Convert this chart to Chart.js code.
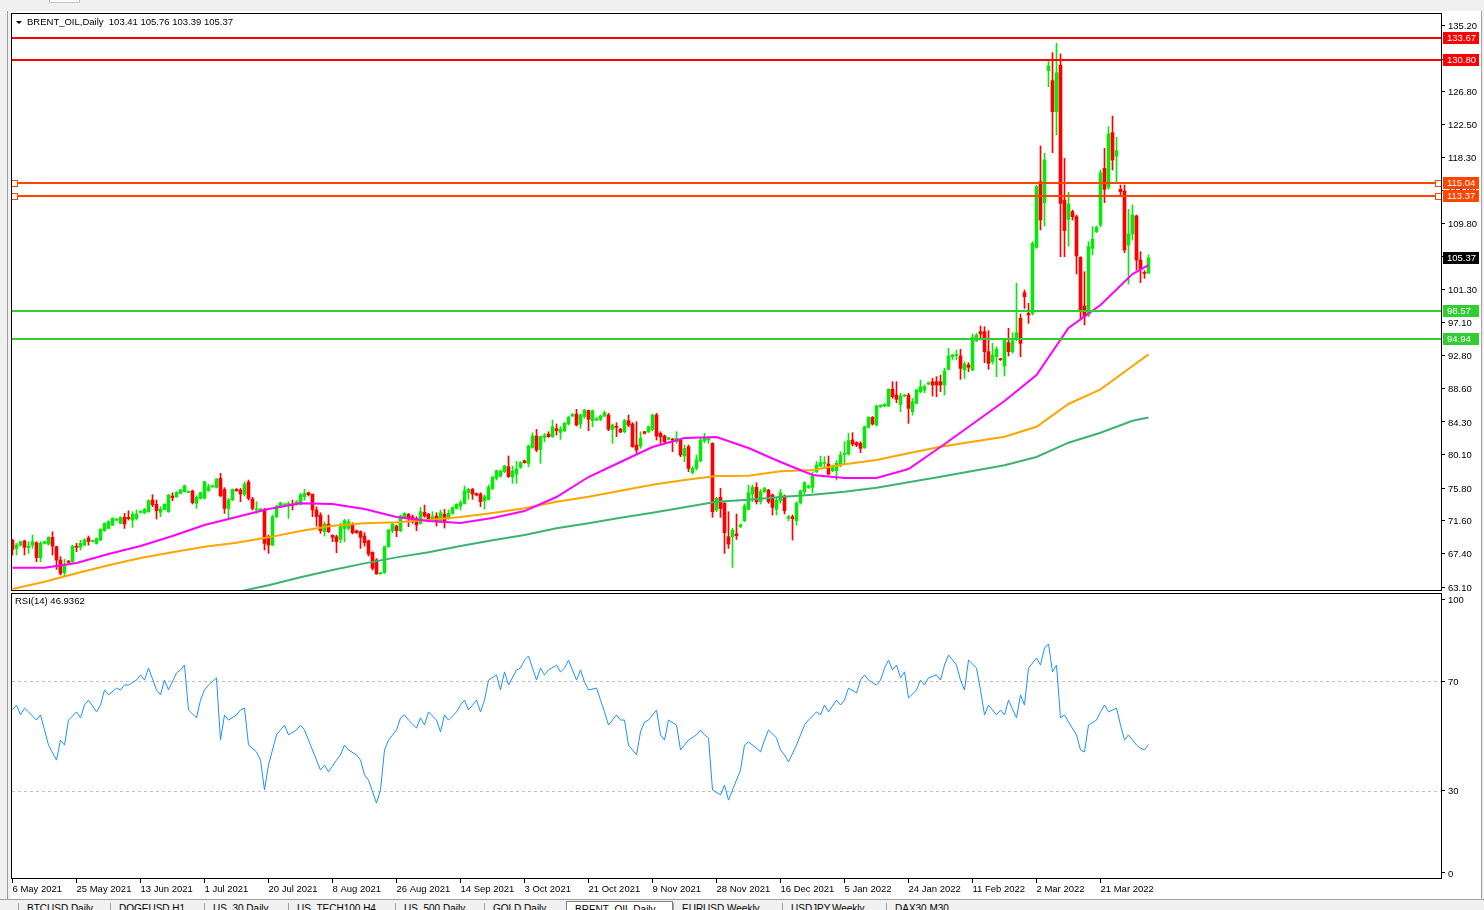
<!DOCTYPE html>
<html>
<head>
<meta charset="utf-8">
<script src="https://cdn.jsdelivr.net/npm/chart.js@4.4.0/dist/chart.umd.min.js"></script>
<style>
  html, body { margin: 0; padding: 0; background: #f0f0f0; }
  #wrap { position: relative; width: 1484px; height: 910px; overflow: hidden; font-family: "Liberation Sans", Arial, sans-serif; }
  #win { position: absolute; left: 11px; top: 11px; width: 1470px; height: 888px; background: #fff; }
  #leftLine { position: absolute; left: 7px; top: 11px; width: 1px; height: 888px; background: #a0a0a0; }
  #rightLine { position: absolute; left: 1481px; top: 11px; width: 1px; height: 888px; background: #a0a0a0; }
  canvas { position: absolute; left: 0; }
  #cMain { top: 0; }
  #cRsi { top: 592px; }
  #tabs { position: absolute; left: 0; top: 899px; width: 1484px; height: 11px; background: #f0f0f0; border-top: 1px solid #a0a0a0; overflow: hidden; font-size: 10px; }
  .tab { position: absolute; top: 3px; height: 20px; border-left: 1px solid #a0a0a0; padding-left: 8px; color: #000; white-space: nowrap; line-height: 12px; }
  .tab.on { background: #fff; border: 1px solid #808080; top: 1px; padding-top: 2px; }
  #tools { position: absolute; left: 0; top: 0; width: 1484px; height: 10px; overflow: hidden; font-size: 10px; }
  .tb { position: absolute; top: -9px; color: #000; }
</style>
</head>
<body>
<div id="wrap">
  <div id="tools">
    <span class="tb" style="left:2px">1</span>
    <span class="tb" style="left:22px">H1</span>
    <span class="tb" style="left:49px;background:#fafafa;padding:0 8px;border:1px solid #c8c8c8;top:-10px">D1</span>
    <span class="tb" style="left:80px">W1</span>
    <span class="tb" style="left:105px">MN</span>
  </div>
  <div id="leftLine"></div>
  <div id="win"></div>
  <div id="rightLine"></div>
  <canvas id="cMain" width="1484" height="592"></canvas>
  <canvas id="cRsi" width="1484" height="305"></canvas>
  <div id="tabs"></div>
</div>
<script>
// BRENT_OIL daily, one bar per index starting 6 May 2021
const openP = [
  69.13, 68.06, 68.49, 69.01, 68.19, 68.49, 68.79, 66.86, 68.71, 68.62,
  69.48, 68.28, 66.56, 64.94, 66.44, 66.35, 68.36, 68.19, 68.49, 69.39,
  68.96, 68.71, 69.13, 70.33, 70.63, 71.06, 71.70, 71.27, 72.05, 72.05,
  71.70, 71.92, 72.69, 72.64, 72.77, 74.27, 73.72, 72.69, 73.07, 72.77,
  74.78, 74.70, 75.13, 75.34, 75.26, 75.43, 73.84, 74.49, 74.49, 75.47,
  75.98, 75.90, 77.06, 75.64, 73.20, 74.27, 75.64, 75.56, 75.00, 76.58,
  74.40, 72.99, 73.00, 72.99, 69.56, 68.49, 72.13, 73.42, 73.63, 73.63,
  73.76, 73.76, 73.76, 74.70, 75.22, 75.04, 72.99, 72.35, 70.21, 71.19,
  69.74, 69.56, 69.22, 70.63, 70.63, 71.19, 70.33, 70.21, 69.65, 69.05,
  67.55, 66.57, 64.80, 64.94, 68.28, 70.33, 70.93, 70.33, 72.05, 72.43,
  72.13, 71.92, 71.28, 72.69, 72.47, 71.79, 72.22, 71.49, 72.47, 71.92,
  72.56, 73.20, 73.50, 73.84, 75.22, 75.64, 75.09, 75.04, 74.19, 74.36,
  75.77, 77.10, 77.36, 77.91, 78.56, 77.27, 77.61, 78.47, 79.33, 78.98,
  81.04, 82.50, 80.78, 82.32, 82.75, 82.41, 83.44, 82.97, 83.18, 84.04,
  85.06, 85.32, 84.04, 84.98, 85.75, 84.47, 84.55, 84.64, 85.06, 85.19,
  83.35, 83.69, 83.39, 83.05, 84.47, 84.04, 81.34, 81.21, 83.05, 83.05,
  83.35, 85.19, 82.84, 82.50, 82.07, 82.07, 81.77, 81.98, 79.93, 81.13,
  77.79, 78.34, 79.33, 81.90, 81.98, 81.55, 72.99, 74.62, 73.85, 69.56,
  69.56, 69.91, 70.85, 71.62, 73.07, 75.04, 75.90, 74.06, 75.34, 75.56,
  74.92, 73.07, 74.19, 74.79, 71.92, 72.13, 71.62, 73.93, 75.34, 75.90,
  75.90, 77.91, 78.64, 78.98, 78.90, 78.04, 78.04, 78.77, 80.14, 80.18,
  81.98, 81.64, 81.55, 80.99, 83.61, 84.89, 83.91, 86.26, 86.35, 86.35,
  88.49, 87.76, 86.56, 87.63, 87.76, 85.62, 86.69, 88.19, 88.40, 89.17,
  89.47, 89.47, 89.47, 89.05, 91.06, 92.69, 92.86, 92.77, 90.97, 91.62,
  90.97, 94.74, 95.90, 95.90, 93.33, 92.04, 92.69, 92.39, 91.49, 94.48,
  93.33, 94.91, 97.61, 100.91, 98.25, 98.25, 106.73, 115.17, 112.47, 129.43,
  128.14, 124.16, 130.15, 112.81, 110.33, 111.31, 110.67, 105.45, 99.20, 98.04,
  106.60, 108.74, 109.60, 116.88, 114.44, 121.46, 118.46, 114.18, 113.97, 107.03,
  108.44, 110.76, 105.10, 103.48, 103.41
];
const highP = [
  69.22, 68.71, 69.01, 69.13, 68.92, 69.78, 68.92, 68.92, 69.01, 69.56,
  70.20, 68.36, 67.00, 66.65, 66.50, 68.45, 68.71, 69.13, 69.30, 69.65,
  69.10, 69.40, 70.60, 71.35, 71.60, 72.00, 71.90, 72.13, 72.56, 72.90,
  72.77, 72.99, 72.90, 73.20, 74.30, 74.96, 74.27, 73.42, 73.80, 75.00,
  75.21, 75.35, 75.65, 76.20, 75.45, 75.56, 74.83, 75.30, 76.70, 76.30,
  76.20, 77.05, 77.70, 75.86, 74.49, 75.70, 75.75, 75.77, 76.63, 76.84,
  74.61, 74.06, 73.20, 73.20, 69.78, 72.35, 73.60, 74.00, 73.85, 74.06,
  74.27, 74.20, 75.13, 75.64, 75.30, 75.04, 73.42, 72.65, 71.49, 72.35,
  69.82, 69.78, 71.28, 71.79, 71.79, 71.36, 70.42, 70.33, 70.08, 69.13,
  67.64, 66.74, 65.00, 68.36, 70.50, 71.36, 71.06, 72.35, 72.65, 72.56,
  72.35, 72.13, 73.33, 73.63, 72.56, 72.77, 72.65, 72.99, 73.07, 72.99,
  73.40, 73.80, 74.19, 76.07, 75.77, 75.77, 75.20, 75.22, 74.92, 76.20,
  77.30, 78.13, 78.10, 78.75, 79.93, 78.64, 79.24, 79.20, 79.40, 81.34,
  82.92, 83.35, 82.50, 82.84, 83.05, 84.55, 84.04, 83.69, 84.25, 85.06,
  85.40, 85.92, 85.32, 85.92, 85.84, 85.84, 84.89, 85.19, 85.71, 85.41,
  84.04, 84.21, 83.48, 84.64, 85.19, 84.21, 84.34, 83.05, 83.10, 83.78,
  85.32, 85.41, 83.05, 82.62, 82.35, 82.20, 83.05, 82.07, 81.34, 81.34,
  78.56, 80.05, 82.20, 82.84, 82.32, 81.64, 74.62, 75.77, 74.06, 72.77,
  70.63, 72.48, 71.19, 73.76, 76.20, 76.20, 76.50, 75.64, 75.90, 75.64,
  75.04, 74.49, 75.64, 74.92, 72.30, 72.35, 74.06, 75.56, 76.63, 76.20,
  77.91, 79.20, 79.93, 79.84, 79.93, 78.77, 79.33, 80.48, 81.77, 82.84,
  82.92, 81.77, 81.77, 83.78, 85.00, 85.00, 86.48, 86.52, 86.65, 88.58,
  89.47, 89.47, 87.98, 87.85, 87.98, 87.33, 88.50, 89.69, 89.05, 89.45,
  89.90, 90.12, 90.33, 91.19, 93.76, 92.99, 93.54, 93.63, 92.04, 91.92,
  95.60, 95.68, 96.62, 96.54, 96.03, 94.40, 93.97, 92.50, 95.04, 96.33,
  95.77, 102.11, 98.17, 101.25, 99.54, 107.46, 114.74, 119.75, 118.81, 130.88,
  131.74, 132.94, 131.57, 118.16, 113.80, 111.53, 110.88, 105.53, 103.61, 107.46,
  109.39, 109.47, 116.67, 119.45, 122.23, 123.60, 120.86, 114.74, 114.74, 111.61,
  112.17, 110.88, 106.17, 103.73, 105.76
];
const lowP = [
  67.21, 67.21, 68.36, 67.21, 67.42, 68.06, 66.35, 66.35, 68.62, 68.49,
  67.21, 65.37, 64.64, 64.51, 66.20, 66.27, 67.64, 67.85, 68.40, 68.49,
  68.90, 68.60, 69.05, 70.25, 70.55, 71.00, 71.60, 71.20, 70.63, 71.70,
  70.76, 71.70, 72.60, 72.50, 72.70, 73.42, 71.83, 72.13, 73.00, 72.70,
  74.19, 74.60, 75.05, 75.30, 75.20, 73.76, 73.20, 74.40, 74.40, 75.40,
  75.90, 75.80, 74.70, 72.56, 72.00, 74.20, 75.40, 74.06, 74.79, 74.27,
  72.99, 72.56, 72.90, 67.85, 67.42, 68.40, 72.00, 73.30, 73.60, 71.92,
  72.99, 73.60, 73.63, 74.27, 74.79, 72.13, 70.93, 69.99, 69.65, 70.08,
  68.92, 67.51, 68.79, 68.92, 70.42, 69.91, 69.99, 68.06, 68.36, 67.08,
  65.28, 64.77, 64.75, 64.85, 68.20, 70.08, 69.56, 70.21, 71.92, 70.85,
  71.28, 70.33, 71.19, 72.05, 71.62, 71.62, 70.93, 71.36, 70.68, 71.79,
  72.45, 73.10, 72.99, 73.76, 74.36, 74.36, 74.80, 73.42, 73.12, 74.27,
  75.60, 76.84, 77.20, 77.80, 77.19, 76.41, 76.41, 78.34, 79.00, 78.56,
  80.91, 80.48, 78.98, 81.77, 82.32, 82.32, 82.62, 82.07, 83.05, 83.91,
  85.00, 83.78, 83.48, 84.77, 83.18, 83.69, 84.47, 84.47, 84.98, 83.18,
  81.55, 82.41, 82.92, 82.92, 83.69, 81.04, 80.27, 80.91, 82.75, 82.92,
  83.18, 81.98, 81.55, 81.64, 82.00, 80.48, 81.55, 79.84, 79.20, 77.91,
  77.61, 78.13, 79.20, 81.64, 81.55, 72.05, 72.77, 72.05, 67.42, 68.06,
  65.62, 69.22, 70.72, 71.49, 72.99, 74.06, 73.76, 73.76, 75.20, 73.85,
  72.35, 72.35, 73.85, 72.48, 71.62, 69.13, 71.06, 73.76, 75.04, 75.77,
  75.22, 77.79, 78.56, 78.34, 77.49, 77.91, 76.84, 78.56, 78.98, 80.05,
  81.21, 81.13, 80.35, 80.91, 83.50, 83.90, 83.78, 86.18, 86.26, 86.26,
  87.33, 86.78, 85.62, 87.55, 84.12, 85.19, 86.60, 88.06, 88.06, 89.08,
  87.63, 87.55, 88.19, 87.76, 90.97, 92.34, 92.26, 89.77, 89.90, 90.76,
  90.89, 94.61, 94.83, 91.92, 91.06, 91.74, 90.12, 92.20, 90.20, 92.77,
  93.12, 94.74, 92.69, 98.89, 96.97, 98.04, 106.60, 108.96, 109.47, 127.37,
  118.89, 121.16, 105.53, 105.53, 106.90, 110.24, 103.31, 97.40, 96.75, 97.82,
  105.75, 108.61, 109.39, 112.47, 114.18, 116.67, 115.17, 113.45, 106.05, 102.02,
  107.67, 103.82, 102.19, 102.75, 103.39
];
const closeP = [
  67.93, 68.49, 68.92, 68.19, 68.36, 68.92, 66.86, 68.71, 68.92, 69.48,
  68.36, 66.56, 64.85, 65.79, 66.27, 68.36, 68.19, 68.71, 69.13, 68.96,
  69.05, 69.31, 70.50, 71.27, 71.49, 71.92, 71.83, 72.05, 71.19, 71.87,
  72.43, 72.47, 72.82, 73.07, 74.19, 73.68, 72.90, 73.12, 73.72, 74.91,
  74.57, 75.26, 75.56, 76.11, 75.39, 73.93, 74.61, 75.21, 76.63, 75.98,
  76.11, 76.97, 74.83, 73.20, 74.27, 75.64, 75.47, 75.04, 76.33, 74.49,
  73.20, 73.12, 73.07, 68.71, 68.49, 72.13, 73.42, 73.93, 73.76, 73.84,
  73.63, 74.06, 74.92, 75.13, 74.96, 73.00, 72.13, 70.33, 71.19, 70.21,
  69.48, 68.92, 70.85, 71.62, 71.49, 70.08, 70.08, 69.48, 68.79, 67.34,
  65.50, 64.77, 64.90, 68.28, 70.42, 71.19, 70.33, 72.22, 72.56, 71.92,
  71.79, 71.06, 72.77, 72.22, 71.79, 72.13, 71.49, 72.65, 71.49, 72.56,
  73.29, 73.72, 73.93, 75.47, 75.64, 75.04, 74.92, 74.06, 74.70, 75.90,
  77.19, 78.04, 78.00, 78.64, 77.27, 78.00, 78.26, 79.07, 79.07, 81.21,
  82.50, 80.69, 82.41, 82.54, 82.41, 83.69, 83.18, 83.39, 84.12, 84.89,
  85.28, 83.91, 85.19, 85.84, 84.64, 85.75, 84.64, 85.06, 85.49, 83.35,
  83.91, 83.61, 83.01, 84.47, 83.91, 81.13, 80.69, 82.20, 82.84, 83.69,
  85.19, 82.50, 82.41, 81.77, 82.28, 81.98, 82.20, 80.05, 80.91, 78.34,
  78.34, 79.41, 81.98, 82.20, 82.20, 72.77, 74.49, 73.20, 70.08, 68.62,
  70.42, 69.69, 71.11, 73.50, 75.22, 75.90, 74.06, 75.34, 75.77, 74.06,
  73.33, 74.27, 75.22, 72.90, 72.13, 71.88, 73.85, 75.47, 76.50, 76.07,
  77.36, 78.77, 79.07, 79.07, 77.61, 78.64, 78.98, 80.05, 80.27, 81.90,
  81.47, 81.34, 80.91, 83.69, 84.89, 84.04, 86.35, 86.43, 86.56, 88.49,
  87.55, 87.20, 87.63, 87.76, 86.05, 86.90, 88.40, 88.83, 88.83, 89.34,
  89.05, 89.05, 89.05, 90.84, 92.77, 92.90, 92.95, 91.19, 91.74, 91.32,
  95.17, 95.43, 95.60, 93.33, 91.83, 92.90, 93.63, 92.30, 94.91, 93.33,
  94.74, 95.77, 94.40, 100.39, 98.04, 107.24, 114.52, 110.24, 117.95, 130.03,
  124.16, 129.17, 112.38, 108.87, 112.30, 110.67, 105.62, 98.60, 97.82, 106.82,
  107.76, 109.30, 116.32, 114.18, 121.29, 117.95, 119.15, 113.88, 106.39, 108.44,
  110.88, 105.10, 103.91, 103.39, 105.37
];

// moving averages, read every 8 bars
const maBars = [0, 8, 16, 24, 32, 40, 48, 56, 64, 72, 80, 88, 96, 104, 112, 120, 128, 136, 144,
  152, 160, 168, 176, 184, 192, 200, 208, 216, 224, 232, 240, 248, 256, 264, 272, 280, 284];
const maFast = [65.58, 65.58, 66.18, 67.34, 68.37, 69.65, 71.06, 72.09, 73.12, 73.85, 73.76, 73.12,
  72.09, 71.58, 71.32, 71.96, 72.86, 74.66, 77.23, 79.16, 81.08, 82.24, 82.37, 80.96, 79.16, 77.49,
  77.10, 77.10, 78.26, 81.08, 84.04, 86.99, 90.33, 96.37, 99.32, 103.30, 104.46];
const maMid = [62.84, 63.78, 64.86, 65.89, 66.83, 67.56, 68.28, 68.79, 69.48, 70.29, 70.97, 71.28,
  71.41, 71.71, 72.09, 72.61, 73.21, 74.06, 74.70, 75.47, 76.24, 76.84, 77.36, 77.40, 77.96, 78.13,
  78.86, 79.41, 80.27, 81.12, 81.76, 82.41, 83.69, 86.61, 88.49, 91.49, 92.99];
const maSlowBars = [56, 64, 72, 80, 88, 96, 104, 112, 120, 128, 136, 144, 152, 160, 168, 176, 184,
  192, 200, 208, 216, 224, 232, 240, 248, 256, 264, 272, 280, 284];
const maSlow = [62.45, 63.32, 64.35, 65.29, 66.14, 66.91, 67.56, 68.37, 69.10, 69.78, 70.64, 71.28,
  72.00, 72.64, 73.34, 74.06, 74.31, 74.66, 74.96, 75.34, 75.86, 76.55, 77.27, 78.00, 78.73, 79.80,
  81.64, 82.92, 84.46, 84.87];

// RSI(14)
const rsiBars = [
  0, 1, 2, 3, 4, 6, 7, 8, 9, 11,
  12, 13, 14, 16, 17, 18, 19, 21, 22, 23,
  24, 26, 27, 28, 29, 31, 32, 33, 34, 36,
  37, 38, 39, 41, 42, 43, 44, 46, 47, 48,
  49, 51, 52, 53, 54, 56, 57, 58, 59, 61,
  62, 63, 64, 66, 67, 68, 69, 71, 72, 73,
  74, 76, 77, 78, 79, 81, 82, 83, 84, 86,
  87, 88, 89, 91, 92, 93, 94, 96, 97, 98,
  99, 101, 102, 103, 104, 106, 107, 108, 109, 111,
  112, 113, 114, 116, 117, 118, 119, 121, 122, 123,
  124, 126, 127, 128, 129, 131, 132, 133, 134, 136,
  137, 138, 139, 141, 142, 143, 144, 146, 147, 148,
  149, 151, 152, 153, 154, 156, 157, 158, 159, 161,
  162, 163, 164, 166, 167, 168, 169, 171, 172, 173,
  174, 175, 177, 178, 179, 180, 182, 183, 184, 186,
  187, 188, 189, 191, 192, 193, 194, 196, 197, 198,
  199, 201, 202, 203, 204, 206, 207, 208, 209, 211,
  212, 213, 214, 216, 217, 218, 219, 220, 221, 222,
  223, 224, 226, 227, 228, 229, 231, 232, 233, 234,
  236, 237, 238, 239, 241, 242, 243, 244, 246, 247,
  248, 249, 251, 252, 253, 254, 256, 257, 258, 259,
  260, 261, 262, 263, 264, 266, 267, 268, 269, 271,
  272, 273, 274, 276, 277, 278, 279, 281, 282, 283,
  284
];
const rsiVals = [
  59.5, 61.3, 57.7, 60.2, 58.8, 55.8, 57.7, 52.2, 46.7, 41.2,
  48.5, 46.7, 55.8, 58.8, 56.6, 61.3, 63.1, 58.8, 61.3, 66.8,
  65.0, 67.5, 66.8, 68.6, 68.6, 70.4, 72.3, 70.4, 74.8, 66.8,
  65.0, 70.4, 66.8, 73.0, 74.1, 75.9, 59.5, 56.6, 63.1, 66.8,
  68.6, 71.2, 48.5, 57.7, 55.8, 57.7, 59.5, 60.2, 46.7, 44.2,
  41.2, 30.3, 39.4, 50.4, 52.2, 54.0, 50.4, 52.2, 54.0, 52.2,
  48.5, 41.2, 37.6, 39.4, 36.9, 41.2, 43.1, 46.7, 44.9, 43.1,
  41.2, 35.8, 33.9, 25.5, 30.3, 44.9, 48.5, 52.2, 56.6, 57.7,
  55.8, 52.9, 56.6, 54.0, 58.8, 55.8, 51.5, 57.7, 55.8, 58.8,
  61.3, 63.1, 59.5, 63.1, 58.8, 63.1, 70.4, 72.3, 66.8, 73.4,
  68.6, 74.1, 74.8, 77.7, 79.2, 70.4, 74.8, 72.3, 74.1, 75.9,
  73.4, 74.8, 77.7, 70.4, 74.1, 69.7, 66.8, 67.5, 63.1, 58.8,
  54.0, 57.7, 55.8, 55.8, 46.7, 43.1, 51.5, 55.1, 55.8, 59.5,
  50.4, 48.5, 55.8, 54.0, 44.9, 46.7, 48.5, 50.4, 52.2, 50.4,
  49.3, 30.3, 28.5, 32.1, 26.6, 30.3, 37.6, 46.7, 47.8, 45.6,
  44.2, 48.5, 52.2, 49.3, 44.9, 43.1, 40.5, 46.7, 50.4, 54.0,
  55.8, 58.8, 57.7, 61.3, 58.8, 63.1, 61.3, 63.1, 67.5, 65.7,
  70.4, 72.3, 70.4, 68.6, 70.4, 74.8, 77.7, 74.1, 75.9, 71.2,
  73.4, 63.9, 66.8, 70.4, 68.6, 71.2, 72.3, 70.4, 75.9, 79.6,
  75.9, 70.4, 66.8, 77.7, 74.8, 66.8, 57.7, 61.3, 57.7, 59.5,
  57.7, 63.1, 56.6, 65.0, 61.3, 74.8, 78.5, 75.9, 82.1, 83.6,
  73.4, 75.9, 56.6, 57.7, 55.1, 50.4, 44.9, 44.2, 54.0, 55.8,
  58.8, 61.3, 58.8, 60.2, 54.0, 48.5, 50.4, 46.7, 45.6, 44.9,
  46.94
];

const dateLabels = ['6 May 2021', '25 May 2021', '13 Jun 2021', '1 Jul 2021', '20 Jul 2021', '8 Aug 2021',
  '26 Aug 2021', '14 Sep 2021', '3 Oct 2021', '21 Oct 2021', '9 Nov 2021', '28 Nov 2021', '16 Dec 2021',
  '5 Jan 2022', '24 Jan 2022', '11 Feb 2022', '2 Mar 2022', '21 Mar 2022'];
const priceTicks = [135.2, 130.8, 126.8, 122.5, 118.3, 114.0, 109.8, 105.5, 101.3, 97.1, 92.8, 88.6,
  84.3, 80.1, 75.8, 71.6, 67.4, 63.1];
const rsiTicks = [0, 30, 70, 100];
const rsiLevels = [30, 70];

// horizontal levels drawn on the chart
const levels = [133.67, 130.80, 115.04, 113.37, 98.57, 94.94];
const levelColors = ['#ff0000', '#ff0000', '#ff4500', '#ff4500', '#32cd32', '#32cd32'];
const selectedLevels = [115.04, 113.37];
const lastPrice = 105.37;
const header = 'BRENT_OIL,Daily  103.41 105.76 103.39 105.37';
const rsiHeader = 'RSI(14) 46.9362';

const tabNames = ['BTCUSD,Daily', 'DOGEUSD,H1', 'US_30,Daily', 'US_TECH100,H4', 'US_500,Daily', 'GOLD,Daily',
  'BRENT_OIL,Daily', 'EURUSD,Weekly', 'USDJPY,Weekly', 'DAX30,M30'];
const tabLefts = [18, 110, 204, 288, 395, 484, 566, 673, 782, 886];

// ---------------------------------------------------------------------------
const FONT = '"Liberation Sans", Arial, sans-serif';
const UP = '#0be60b', DOWN = '#ff0000';
const X_MIN = -0.375, X_MAX = 357.375;

const tabs = document.getElementById('tabs');
tabNames.forEach((n, k) => {
  const d = document.createElement('div');
  d.className = 'tab' + (n === 'BRENT_OIL,Daily' ? ' on' : '');
  d.style.left = tabLefts[k] + 'px';
  d.textContent = n;
  if (n === 'BRENT_OIL,Daily') d.style.width = (673 - 566 - 10) + 'px';
  tabs.appendChild(d);
});

const idx = openP.map((_, i) => i);
const candleColor = idx.map(i => closeP[i] >= openP[i] ? UP : DOWN);

const framePlugin = {
  id: 'frame',
  afterDraw(chart) {
    const { ctx, chartArea: a } = chart;
    ctx.save();
    ctx.strokeStyle = '#000';
    ctx.lineWidth = 1;
    ctx.strokeRect(a.left + 0.5, a.top + 0.5, a.right - a.left - 1, a.bottom - a.top - 1);
    ctx.restore();
  }
};

const levelsPlugin = {
  id: 'levels',
  afterDatasetsDraw(chart) {
    const { ctx, chartArea: a } = chart;
    const y = chart.scales.y;
    ctx.save();
    levels.forEach((v, k) => {
      const py = Math.round(y.getPixelForValue(v));
      ctx.fillStyle = levelColors[k];
      ctx.fillRect(a.left, py - 1, a.right - a.left, 2);
    });
    selectedLevels.forEach(v => {
      const py = Math.round(y.getPixelForValue(v));
      [a.left + 3, a.right - 4].forEach(px => {
        ctx.fillStyle = '#fff';
        ctx.fillRect(px - 2, py - 2, 5, 5);
        ctx.strokeStyle = '#ff4500';
        ctx.lineWidth = 1;
        ctx.strokeRect(px - 2.5, py - 2.5, 6, 6);
      });
    });
    ctx.restore();
  },
  afterDraw(chart) {
    const { ctx, chartArea: a } = chart;
    const y = chart.scales.y;
    ctx.save();
    ctx.font = '9.5px ' + FONT;
    ctx.textBaseline = 'middle';
    const box = (v, bg) => {
      const py = Math.round(y.getPixelForValue(v));
      ctx.fillStyle = bg;
      ctx.fillRect(a.right + 1, py - 6, 36, 12);
      ctx.fillStyle = '#fff';
      ctx.fillText(v.toFixed(2), a.right + 5, py + 0.5);
    };
    levels.forEach((v, k) => box(v, levelColors[k]));
    box(lastPrice, '#000');
    // header
    ctx.fillStyle = '#000';
    ctx.beginPath();
    ctx.moveTo(a.left + 5, a.top + 8);
    ctx.lineTo(a.left + 11, a.top + 8);
    ctx.lineTo(a.left + 8, a.top + 11);
    ctx.closePath();
    ctx.fill();
    ctx.fillText(header, a.left + 16, a.top + 9.5);
    ctx.restore();
  }
};

const rsiPlugin = {
  id: 'rsiLevels',
  beforeDatasetsDraw(chart) {
    const { ctx, chartArea: a } = chart;
    const y = chart.scales.y;
    ctx.save();
    ctx.strokeStyle = '#c0c0c0';
    ctx.lineWidth = 1;
    ctx.setLineDash([3, 3]);
    rsiLevels.forEach(v => {
      const py = Math.round(y.getPixelForValue(v)) + 0.5;
      ctx.beginPath();
      ctx.moveTo(a.left + 1, py);
      ctx.lineTo(a.right - 1, py);
      ctx.stroke();
    });
    ctx.restore();
  },
  afterDraw(chart) {
    const { ctx, chartArea: a } = chart;
    ctx.save();
    ctx.font = '9.5px ' + FONT;
    ctx.fillStyle = '#000';
    ctx.textBaseline = 'middle';
    ctx.fillText(rsiHeader, a.left + 4, a.top + 8.5);
    ctx.restore();
  }
};

const tickFont = { family: FONT, size: 9.5 };

const yRight = (ticks, min, max, fmt) => ({
  position: 'right',
  min: min,
  max: max,
  afterBuildTicks: s => { s.ticks = ticks.map(v => ({ value: v })); },
  afterFit: s => { s.width = 42; s.paddingTop = 0; s.paddingBottom = 0; },
  ticks: { font: tickFont, color: '#000', padding: 3, labelOffset: 1, callback: fmt, autoSkip: false },
  grid: { drawOnChartArea: false, tickLength: 3, color: '#000' },
  border: { display: false }
});

new Chart(document.getElementById('cMain'), {
  type: 'bar',
  data: {
    datasets: [
      { type: 'line', data: maSlowBars.map((b, k) => ({ x: b, y: maSlow[k] })), borderColor: '#3cb371',
        borderWidth: 2, pointRadius: 0, clip: 0, order: 3 },
      { type: 'line', data: maBars.map((b, k) => ({ x: b, y: maMid[k] })), borderColor: '#ffa500',
        borderWidth: 2, pointRadius: 0, clip: 0, order: 2 },
      { type: 'line', data: maBars.map((b, k) => ({ x: b, y: maFast[k] })), borderColor: '#ff00ff',
        borderWidth: 2, pointRadius: 0, clip: 0, order: 1 },
      { data: idx.map(i => ({ x: i, y: [lowP[i], highP[i]] })), backgroundColor: candleColor,
        barThickness: 1, grouped: false, order: 11 },
      { data: idx.map(i => ({ x: i, y: [openP[i], closeP[i]] })), backgroundColor: candleColor,
        barThickness: 3, grouped: false, minBarLength: 1, order: 10 }
    ]
  },
  options: {
    responsive: false,
    animation: false,
    devicePixelRatio: 1,
    layout: { padding: { left: 11, top: 13, right: 0, bottom: 1 } },
    plugins: { legend: { display: false }, tooltip: { enabled: false } },
    scales: {
      x: { type: 'linear', min: X_MIN, max: X_MAX, offset: false, display: false },
      y: yRight(priceTicks, 62.59, 136.83, v => v.toFixed(2))
    }
  },
  plugins: [framePlugin, levelsPlugin]
});

new Chart(document.getElementById('cRsi'), {
  type: 'line',
  data: {
    datasets: [
      { data: rsiBars.map((b, k) => ({ x: b, y: rsiVals[k] })), borderColor: '#1e90ff', borderWidth: 1,
        pointRadius: 0, tension: 0, clip: 0 }
    ]
  },
  options: {
    responsive: false,
    animation: false,
    devicePixelRatio: 1,
    layout: { padding: { left: 11, top: 1, right: 0, bottom: 0 } },
    plugins: { legend: { display: false }, tooltip: { enabled: false } },
    scales: {
      x: {
        type: 'linear', min: X_MIN, max: X_MAX, offset: false,
        afterBuildTicks: s => { s.ticks = dateLabels.map((_, k) => ({ value: k * 16 })); },
        afterFit: s => { s.height = 18; s.paddingLeft = 0; s.paddingRight = 0; },
        ticks: { font: tickFont, color: '#000', autoSkip: false, maxRotation: 0, align: 'start', padding: 1,
          callback: (v, i) => dateLabels[i] },
        grid: { drawOnChartArea: false, tickLength: 4, color: '#000' },
        border: { display: false }
      },
      y: yRight(rsiTicks, -2.19, 102.19, v => String(v))
    }
  },
  plugins: [framePlugin, rsiPlugin]
});
</script>
</body>
</html>
